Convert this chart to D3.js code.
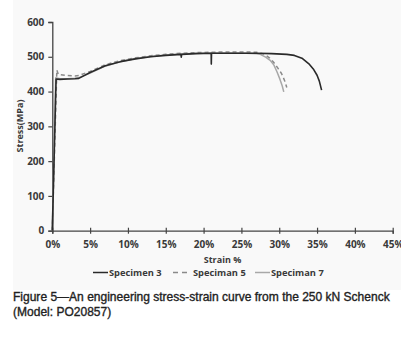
<!DOCTYPE html>
<html><head><meta charset="utf-8">
<script src="https://cdn.jsdelivr.net/npm/d3@7"></script>
<style>body{margin:0;background:#fff}svg{display:block}</style>
</head><body>
<svg id="c" width="401" height="348"></svg>
<script>
const xTicks = [0,5,10,15,20,25,30,35,40,45];
const yTicks = [0,100,200,300,400,500,600];
const seriesNames = ["Specimen 3","Speciman 5","Speciman 7"];
const strain3 = [0,0.5,1.0,2.0,3.0,3.5,5,7,9,11,13,15,17.0,17.05,17.1,19,21.0,21.02,21.05,23,25,27,29,31,32,33,34,34.5,35,35.3,35.6];
const stress3 = [0,436,435,436,437,438,455,474,486,494,500,504,507,499,507,509,510,479,510,510,510,510,509,507,504,496,478,465,447,430,404];
const strain5 = [0,0.6,0.8,2,3,3.5,5,7,9,11,13,15,17,19,21,23,25,27,28,28.7,29.2,29.8,30.3,30.7,31];
const stress5 = [0,462,449,446,445,446,458,477,489,497,503,507,510,512,513,514,514,513,508,497,486,468,452,432,412];
const strain7 = [0,0.45,1,2,3,3.5,5,7,9,11,13,15,17,19,21,23,25,27,27.5,28.2,28.8,29.3,29.7,30.1,30.4,30.6];
const stress7 = [0,440,437,437,438,440,453,473,486,495,501,505,508,510,511,511,511,509,507,499,490,476,457,435,416,399];

const svg = d3.select("#c");
svg.append("rect").attr("x",13).attr("y",0).attr("width",388).attr("height",290).attr("fill","#f9f9f9");

const x = d3.scaleLinear().domain([0,45]).range([52.3,392.7]);
const y = d3.scaleLinear().domain([0,600]).range([230.7,22]);
const axisColor = "#444";
const tickFont = "'Open Sans', sans-serif";

// y axis
const ya = svg.append("g").attr("transform",`translate(${x(0)},0)`)
  .call(d3.axisLeft(y).tickValues(yTicks).tickSize(4).tickPadding(4).tickFormat(d3.format("d")));
ya.select(".domain").attr("stroke",axisColor).attr("stroke-width",1.3);
ya.selectAll(".tick line").attr("stroke",axisColor).attr("stroke-width",1.2);
ya.selectAll("text").attr("font-family",tickFont).attr("font-size","10px").attr("font-weight",700).attr("fill","#3a3a3a");

// x axis
const xa = svg.append("g").attr("transform",`translate(0,${y(0)})`)
  .call(d3.axisBottom(x).tickValues(xTicks).tickSize(3).tickPadding(7).tickFormat(d=>d+"%"));
xa.select(".domain").attr("stroke",axisColor).attr("stroke-width",1.3);
xa.selectAll(".tick line").attr("stroke",axisColor).attr("stroke-width",1.2).attr("y1",-3);
xa.selectAll("text").attr("font-family",tickFont).attr("font-size","10px").attr("font-weight",700).attr("fill","#3a3a3a");

// axis titles
svg.append("text").attr("x",222.5).attr("y",262.5).attr("text-anchor","middle")
  .attr("font-family",tickFont).attr("font-size","9px").attr("font-weight",700).attr("fill","#3a3a3a").text("Strain %");
svg.append("text").attr("transform","translate(23,126) rotate(-90)").attr("text-anchor","middle")
  .attr("font-family",tickFont).attr("font-size","9px").attr("font-weight",700).attr("fill","#3a3a3a").text("Stress(MPa)");

// lines
const styles = [
  {c:"#2a2a2a", dash:null, w:1.6},
  {c:"#8a8a8a", dash:"4,3", w:1.5},
  {c:"#a8a8a8", dash:null, w:1.5}
];
const data = [
  strain3.map((s,i)=>[s,stress3[i]]),
  strain5.map((s,i)=>[s,stress5[i]]),
  strain7.map((s,i)=>[s,stress7[i]])
];
const line = d3.line().x(d=>x(d[0])).y(d=>y(d[1]));
[2,1,0].forEach(i=>{
  svg.append("path").attr("d",line(data[i])).attr("fill","none")
    .attr("stroke",styles[i].c).attr("stroke-width",styles[i].w)
    .attr("stroke-dasharray",styles[i].dash).attr("stroke-linejoin","round");
});

// legend
const legX = [93,173,255];
const legY = 272.5;
seriesNames.forEach((n,i)=>{
  svg.append("line").attr("x1",legX[i]).attr("x2",legX[i]+15).attr("y1",legY).attr("y2",legY)
    .attr("stroke",styles[i].c).attr("stroke-width",1.5).attr("stroke-dasharray",i===1?"5,4":null);
  svg.append("text").attr("x",legX[i]+(i===1?20:16)).attr("y",legY+3.3)
    .attr("font-family",tickFont).attr("font-size","9.3px").attr("font-weight",700).attr("fill","#3a3a3a").text(n);
});

// caption
const cap = svg.append("g").attr("font-family","'Liberation Sans', Arial, sans-serif").attr("fill","#222")
  .attr("stroke","#222").attr("stroke-width",0.35);
const c1 = cap.append("text").attr("x",13).attr("y",301).attr("font-size","12px").text("Figure 5\u2014An engineering stress-strain curve from the 250 kN Schenck");
const w = c1.node().getComputedTextLength();
const fs = 12*377/w;
c1.attr("font-size",fs+"px");
cap.append("text").attr("x",13).attr("y",315.5).attr("font-size",fs+"px").text("(Model: PO20857)");
</script>
</body></html>
